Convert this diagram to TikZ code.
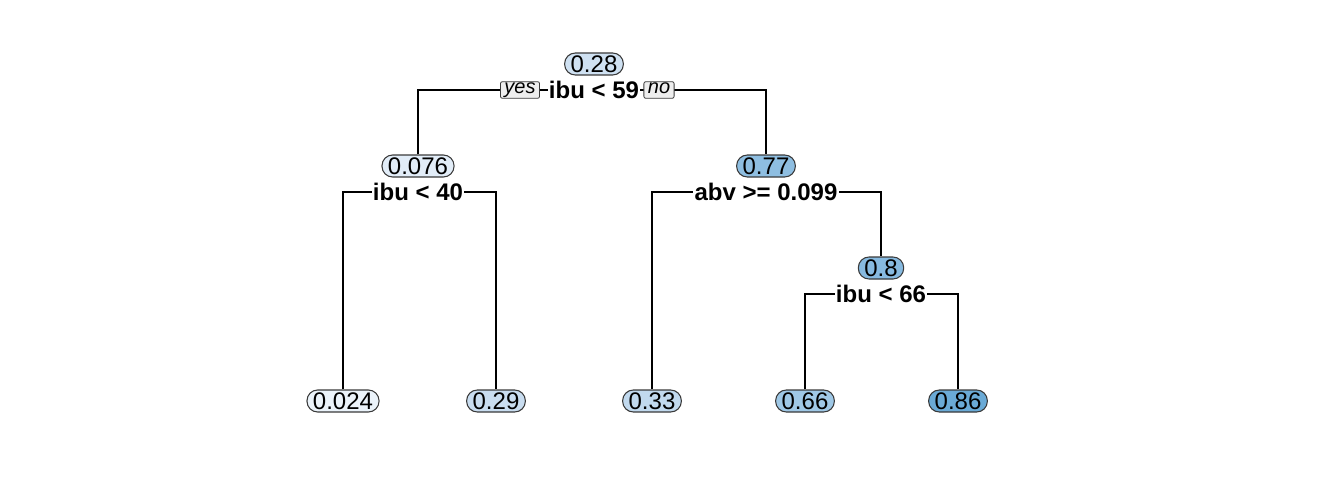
\documentclass[tikz,border=0pt]{standalone}
\usepackage{fontspec}
\setmainfont{Liberation Sans}
\usetikzlibrary{backgrounds}
\definecolor{c024}{HTML}{EBF3FA}
\definecolor{c076}{HTML}{E2EDF8}
\definecolor{c28}{HTML}{CFE1F2}
\definecolor{c29}{HTML}{C9DDF0}
\definecolor{c33}{HTML}{C1D9EE}
\definecolor{c66}{HTML}{9FC8E6}
\definecolor{c77}{HTML}{8EBEE1}
\definecolor{c8}{HTML}{87BAE0}
\definecolor{c86}{HTML}{6AAAD6}
\definecolor{edgegray}{HTML}{3A3A3A}
\definecolor{ynfill}{HTML}{EEEEEE}
\tikzset{
  pill/.style={draw=edgegray, line width=0.8pt, rounded corners=8pt, inner xsep=4.5pt, inner ysep=0pt,
    minimum height=16.5pt, text height=13pt, text depth=0pt, font=\fontsize{18}{20}\selectfont},
  split/.style={fill=white, inner xsep=1pt, inner ysep=0pt, text height=13pt, text depth=0pt,
    font=\fontsize{18}{20}\selectfont\bfseries},
  yn/.style={draw=edgegray, fill=ynfill, line width=0.6pt, rounded corners=1.5pt, inner xsep=3pt, inner ysep=1pt,
    text height=8pt, text depth=2.5pt, font=\fontsize{15}{17}\selectfont\itshape},
  edge/.style={line width=0.9pt, black}
}
\begin{document}
\begin{tikzpicture}[x=0.75pt, y=-0.75pt]
\useasboundingbox (0,0) rectangle (1342,478);
% nodes
\node[pill, fill=c28] (n1) at (594,64) {0.28};
\node[split] (s1) at (594,90) {ibu < 59};
\node[yn] (yes) at (520,90) {yes};
\node[yn] (no) at (659,90) {no};

\node[pill, fill=c076] (n2) at (418,166) {0.076};
\node[split] (s2) at (418,192) {ibu < 40};

\node[pill, fill=c77] (n3) at (766,166) {0.77};
\node[split] (s3) at (766,192) {abv >= 0.099};

\node[pill, fill=c8] (n7) at (881,268) {0.8};
\node[split] (s7) at (881,294) {ibu < 66};

\node[pill, fill=c024] (l1) at (343,401) {0.024};
\node[pill, fill=c29] (l2) at (496,401) {0.29};
\node[pill, fill=c33] (l3) at (652,401) {0.33};
\node[pill, fill=c66] (l4) at (805,401) {0.66};
\node[pill, fill=c86] (l5) at (958,401) {0.86};

\begin{scope}[on background layer]
\draw[edge] (n2.north) |- (s1.center) -| (n3.north);
\draw[edge] (l1.north) |- (s2.center) -| (l2.north);
\draw[edge] (l3.north) |- (s3.center) -| (n7.north);
\draw[edge] (l4.north) |- (s7.center) -| (l5.north);
\end{scope}
\end{tikzpicture}
\end{document}
